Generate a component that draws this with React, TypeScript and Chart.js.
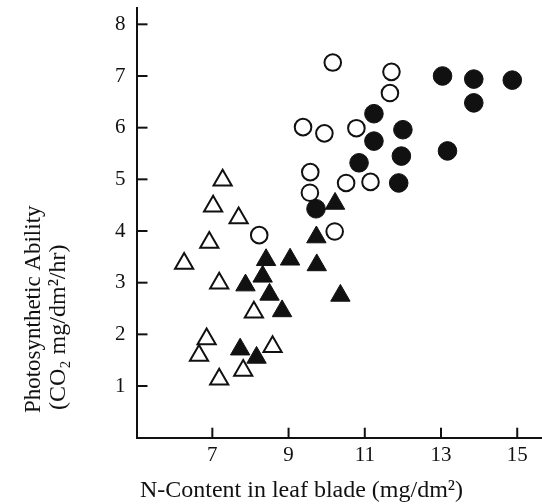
import React, { useEffect, useRef } from "react";
import { Chart, registerables } from "chart.js";
Chart.register(...registerables);

// Open triangles
const openTriX = [7.27, 7.02, 7.69, 6.92, 6.26, 7.18, 8.09, 6.85, 6.65, 8.58, 7.81, 7.18];
const openTriY = [4.98, 4.48, 4.25, 3.78, 3.37, 2.99, 2.43, 1.91, 1.59, 1.76, 1.3, 1.13];
// Filled triangles
const fillTriX = [10.22, 9.73, 8.41, 9.04, 9.74, 8.32, 7.87, 8.5, 10.36, 8.83, 7.73, 8.16];
const fillTriY = [4.53, 3.88, 3.44, 3.45, 3.34, 3.12, 2.95, 2.77, 2.75, 2.45, 1.71, 1.55];
// Open circles
const openCirX = [10.16, 11.7, 11.66, 9.38, 9.94, 10.78, 9.57, 10.51, 11.15, 9.56, 8.23, 10.21];
const openCirY = [7.26, 7.08, 6.67, 6.01, 5.89, 5.99, 5.14, 4.93, 4.95, 4.74, 3.92, 3.99];
// Filled circles
const fillCirX = [13.04, 13.86, 14.87, 13.86, 11.24, 12.0, 11.24, 11.96, 13.17, 10.85, 11.89, 9.72];
const fillCirY = [7.0, 6.94, 6.92, 6.48, 6.27, 5.96, 5.74, 5.45, 5.55, 5.32, 4.93, 4.43];

const xTicks = [7, 9, 11, 13, 15];
const yTicks = [1, 2, 3, 4, 5, 6, 7, 8];
const xTitle = "N-Content in leaf blade (mg/dm²)";
const yTitle1 = "Photosynthetic Ability";
const yTitle2 = "(CO₂ mg/dm²/hr)";

const INK = "#111";
const SERIF = "'Liberation Serif', 'DejaVu Serif', serif";

const pts = (xs: number[], ys: number[]) => xs.map((x, i) => ({ x, y: ys[i] }));

const decorPlugin = {
  id: "decor",
  afterDraw(chart: any) {
    const ctx = chart.ctx as CanvasRenderingContext2D;
    const xs = chart.scales.x;
    const ys = chart.scales.y;
    const a = chart.chartArea;
    ctx.save();
    ctx.strokeStyle = INK;
    ctx.lineWidth = 2;
    xTicks.forEach((v) => {
      const px = xs.getPixelForValue(v);
      ctx.beginPath();
      ctx.moveTo(px, a.bottom);
      ctx.lineTo(px, a.bottom - 10);
      ctx.stroke();
    });
    yTicks.forEach((v) => {
      const py = ys.getPixelForValue(v);
      ctx.beginPath();
      ctx.moveTo(a.left, py);
      ctx.lineTo(a.left + 11, py);
      ctx.stroke();
    });
    ctx.fillStyle = INK;
    ctx.textAlign = "center";
    ctx.textBaseline = "alphabetic";
    ctx.font = `24px ${SERIF}`;
    ctx.fillText(xTitle, a.left + 165, a.bottom + 59);
    ctx.save();
    ctx.font = `23px ${SERIF}`;
    ctx.translate(a.left - 97, a.top + 301);
    ctx.rotate(-Math.PI / 2);
    ctx.fillText(yTitle1, 0, 0);
    ctx.restore();
    ctx.save();
    ctx.font = `24px ${SERIF}`;
    ctx.translate(a.left - 72, a.top + 319);
    ctx.rotate(-Math.PI / 2);
    ctx.fillText(yTitle2, 0, 0);
    ctx.restore();
    ctx.restore();
  },
};

export default function App() {
  const ref = useRef<HTMLCanvasElement | null>(null);
  useEffect(() => {
    if (!ref.current) return;
    const chart = new Chart(ref.current, {
      type: "scatter",
      data: {
        datasets: [
          {
            label: "open triangles",
            data: pts(openTriX, openTriY),
            pointStyle: "triangle",
            pointRadius: 10.5,
            pointBorderWidth: 2,
            pointBorderColor: INK,
            pointBackgroundColor: "#fff",
          },
          {
            label: "open circles",
            data: pts(openCirX, openCirY),
            pointStyle: "circle",
            pointRadius: 8.3,
            pointBorderWidth: 2,
            pointBorderColor: INK,
            pointBackgroundColor: "#fff",
          },
          {
            label: "filled triangles",
            data: pts(fillTriX, fillTriY),
            pointStyle: "triangle",
            pointRadius: 11.2,
            pointBorderWidth: 1,
            pointBorderColor: INK,
            pointBackgroundColor: INK,
          },
          {
            label: "filled circles",
            data: pts(fillCirX, fillCirY),
            pointStyle: "circle",
            pointRadius: 9.3,
            pointBorderWidth: 1,
            pointBorderColor: INK,
            pointBackgroundColor: INK,
          },
        ],
      },
      options: {
        responsive: false,
        animation: false,
        layout: { autoPadding: false, padding: { top: 8.3, right: 0, left: 0, bottom: 0 } },
        plugins: { legend: { display: false }, tooltip: { enabled: false } },
        scales: {
          x: {
            type: "linear",
            min: 5.01,
            max: 15.65,
            grid: { display: true, drawOnChartArea: false, drawTicks: false },
            border: { display: true, color: INK, width: 2 },
            ticks: { color: INK, padding: 5, font: { family: SERIF, size: 21 } },
            afterBuildTicks: (s: any) => {
              s.ticks = xTicks.map((v) => ({ value: v }));
            },
            afterFit: (s: any) => {
              s.height = 66.3;
              s.paddingLeft = 0;
              s.paddingRight = 0;
            },
          },
          y: {
            type: "linear",
            min: 0,
            max: 8.31,
            grid: { display: true, drawOnChartArea: false, drawTicks: false },
            border: { display: true, color: INK, width: 2 },
            ticks: { color: INK, padding: 11, font: { family: SERIF, size: 21 } },
            afterBuildTicks: (s: any) => {
              s.ticks = yTicks.map((v) => ({ value: v }));
            },
            afterFit: (s: any) => {
              s.width = 136.5;
              s.paddingTop = 0;
              s.paddingBottom = 0;
            },
          },
        },
      },
      plugins: [decorPlugin],
    });
    return () => chart.destroy();
  }, []);
  return (
    <div style={{ position: "fixed", left: 0, top: 0, width: 542, height: 504, background: "#fff" }}>
      <canvas ref={ref} width={542} height={504} style={{ display: "block" }} />
    </div>
  );
}
